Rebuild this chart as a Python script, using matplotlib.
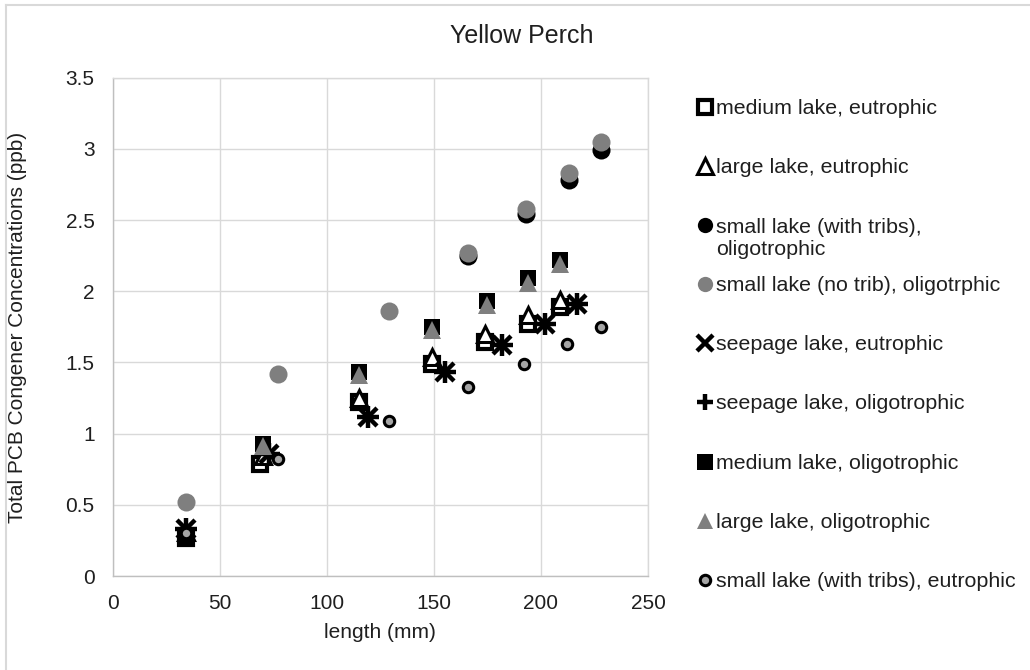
import matplotlib.pyplot as plt
from matplotlib.lines import Line2D

plt.rcParams["font.family"] = ["Liberation Sans", "DejaVu Sans"]

# ------------------------------- data ------------------------------- #
# lengths (mm) and total PCB (ppb) for each lake type
med_eu_x = [34, 69, 115, 149, 174, 194, 209]
med_eu_y = [0.27, 0.79, 1.22, 1.49, 1.64, 1.77, 1.89]

large_eu_x = [34, 70, 115, 149, 174, 194, 209]
large_eu_y = [0.31, 0.84, 1.25, 1.54, 1.70, 1.83, 1.94]

small_tribs_oligo_x = [166, 193, 213, 228]
small_tribs_oligo_y = [2.25, 2.54, 2.78, 2.99]

small_notrib_oligo_x = [34, 77, 129, 166, 193, 213, 228]
small_notrib_oligo_y = [0.52, 1.42, 1.86, 2.27, 2.58, 2.83, 3.05]

seep_eu_x = [34, 73, 119, 155, 182, 202, 217]
seep_eu_y = [0.33, 0.86, 1.12, 1.43, 1.62, 1.77, 1.91]

seep_oligo_x = [34, 73, 119, 155, 182, 202, 217]
seep_oligo_y = [0.33, 0.86, 1.12, 1.43, 1.62, 1.77, 1.91]

med_oligo_x = [34, 70, 115, 149, 175, 194, 209]
med_oligo_y = [0.27, 0.93, 1.43, 1.75, 1.93, 2.09, 2.22]

large_oligo_x = [70, 115, 149, 175, 194, 209]
large_oligo_y = [0.91, 1.41, 1.73, 1.90, 2.06, 2.19]

small_tribs_eu_x = [34, 77, 129, 166, 192, 212, 228]
small_tribs_eu_y = [0.30, 0.82, 1.09, 1.33, 1.49, 1.63, 1.75]

GREY = "#7f7f7f"
GRID = "#d9d9d9"
TEXT = "#1f1f1f"

series = [
    (med_eu_x, med_eu_y, "medium lake, eutrophic",
     dict(marker="s", ms=10, mfc="white", mec="black", mew=3)),
    (large_eu_x, large_eu_y, "large lake, eutrophic",
     dict(marker="^", ms=11, mfc="white", mec="black", mew=2.2)),
    (small_tribs_oligo_x, small_tribs_oligo_y, "small lake (with tribs),\noligotrophic",
     dict(marker="o", ms=13, mfc="black", mec="black", mew=0)),
    (small_notrib_oligo_x, small_notrib_oligo_y, "small lake (no trib), oligotrphic",
     dict(marker="o", ms=13, mfc=GREY, mec=GREY, mew=0)),
    (seep_eu_x, seep_eu_y, "seepage lake, eutrophic",
     dict(marker="x", ms=13, mec="black", mew=3.2)),
    (seep_oligo_x, seep_oligo_y, "seepage lake, oligotrophic",
     dict(marker="+", ms=16, mec="black", mew=3.2)),
    (med_oligo_x, med_oligo_y, "medium lake, oligotrophic",
     dict(marker="s", ms=12, mfc="black", mec="black", mew=0)),
    (large_oligo_x, large_oligo_y, "large lake, oligotrophic",
     dict(marker="^", ms=13, mfc=GREY, mec=GREY, mew=0)),
    (small_tribs_eu_x, small_tribs_eu_y, "small lake (with tribs), eutrophic",
     dict(marker="o", ms=7.5, mfc="#a6a6a6", mec="black", mew=2.2)),
]

W, H = 1030, 670
fig = plt.figure(figsize=(W / 100, H / 100), dpi=100)
ax = fig.add_axes([112.7 / W, 1 - 576 / H, (648 - 112.7) / W, (576 - 77.6) / H])

for x, y, label, style in series:
    ax.plot(x, y, ls="none", **style)

ax.set_xlim(0, 250)
ax.set_ylim(0, 3.5)
ax.set_xticks(range(0, 251, 50))
ax.set_yticks([0, 0.5, 1, 1.5, 2, 2.5, 3, 3.5])
ax.set_yticklabels(["0", "0.5", "1", "1.5", "2", "2.5", "3", "3.5"])
ax.tick_params(length=0, labelsize=15, colors=TEXT, pad=13)
ax.grid(True, color=GRID, lw=1)
ax.set_axisbelow(True)
for side, sp in ax.spines.items():
    sp.set_color("#bfbfbf" if side in ("left", "bottom") else GRID)
    sp.set_linewidth(1)

fig.text(18 / W, 1 - 327 / H, "Total PCB Congener Concentrations (ppb)",
         rotation=90, ha="center", va="center", fontsize=15, color=TEXT)
fig.text(380 / W, 1 - 633 / H, "length (mm)",
         ha="center", va="center", fontsize=15, color=TEXT)
fig.text(522 / W, 1 - 36 / H, "Yellow Perch",
         ha="center", va="center", fontsize=18, color=TEXT)

# hand-placed legend on a fixed row pitch, like the spreadsheet one
row0, pitch, line_h = 106.7, 59.16, 23.3
for i, (x, y, label, style) in enumerate(series):
    yy = row0 + i * pitch
    st = dict(style)
    st["ms"] = min(st["ms"], 11)
    fig.add_artist(Line2D([705 / W], [1 - yy / H], ls="none",
                          transform=fig.transFigure, **st))
    # baseline alignment anchors the last line, so push wrapped labels down
    extra = label.count("\n") * line_h
    fig.text(716 / W, 1 - (yy + 7 + extra) / H, label, ha="left", va="baseline",
             fontsize=15.4, color=TEXT, linespacing=1.2)

# chart-area border
fig.add_artist(Line2D([6 / W, 6 / W], [0, 1 - 5 / H], color=GRID, lw=1.5,
                      transform=fig.transFigure))
fig.add_artist(Line2D([6 / W, 1], [1 - 5 / H, 1 - 5 / H], color=GRID, lw=1.5,
                      transform=fig.transFigure))

fig.savefig("out.png", dpi=100)
